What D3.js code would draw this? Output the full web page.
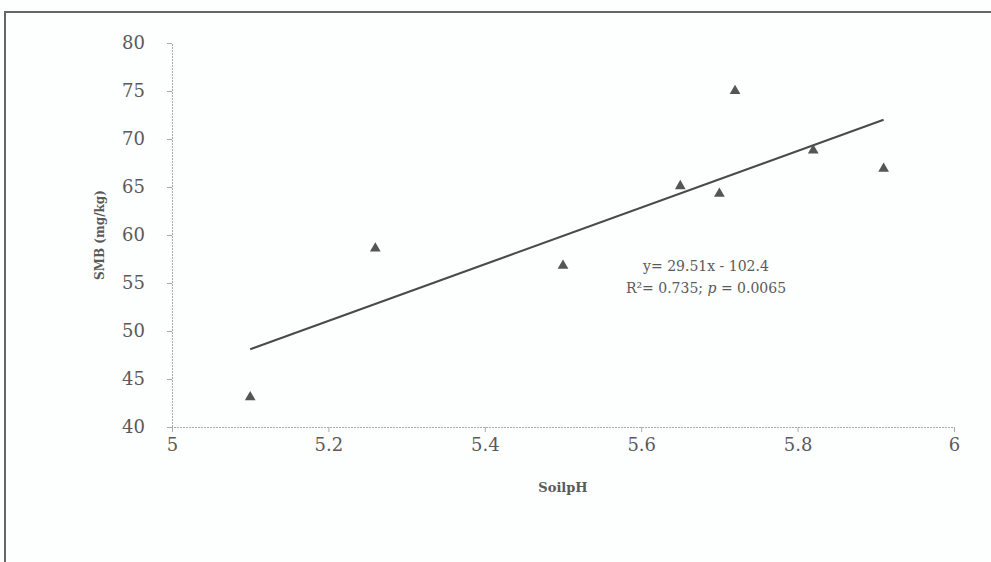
<!DOCTYPE html>
<html>
<head>
<meta charset="utf-8">
<script src="https://cdn.jsdelivr.net/npm/d3@7"></script>
<style>
  html, body { margin: 0; padding: 0; background: #fdfefe; }
  svg { display: block; }
</style>
</head>
<body>
<svg class="chart"></svg>
<script>
// data
const soilPH = [5.1, 5.26, 5.5, 5.65, 5.7, 5.72, 5.82, 5.91];
const smb = [43.1, 58.6, 56.8, 65.1, 64.3, 75.0, 68.8, 66.9];
const xTicks = [5, 5.2, 5.4, 5.6, 5.8, 6];
const yTicks = [40, 45, 50, 55, 60, 65, 70, 75, 80];
const slope = 29.51;
const intercept = -102.4;
const eqLines = ["y= 29.51x - 102.4", "R²= 0.735; ", "p", " = 0.0065"];

const width = 991, height = 562;
const margin = { top: 43, right: 37, bottom: 135, left: 172 };
const serif = `"DejaVu Serif", serif`;

const svg = d3.select(".chart")
  .attr("width", width)
  .attr("height", height);

// scanned frame
svg.append("path")
  .attr("d", `M5,${height} L5,12 L${width},12`)
  .attr("fill", "none")
  .attr("stroke", "#666")
  .attr("stroke-width", 2);

//make scales
const xScale = d3.scaleLinear()
  .domain([5, 6])
  .range([margin.left, width - margin.right]);
const yScale = d3.scaleLinear()
  .domain([40, 80])
  .range([height - margin.bottom, margin.top]);

const textColor = "#5a5a5a";
const axisColor = "#aaa";

//make axis
const xAxis = g => {
  g.attr("transform", `translate(0, ${yScale(40)})`)
    .call(d3.axisBottom(xScale).tickValues(xTicks).tickFormat(d3.format("")).tickSize(5).tickPadding(6));
  g.attr("class", "xaxis");
  return g;
};
const yAxis = g => {
  g.attr("transform", `translate(${xScale(5)}, 0)`)
    .call(d3.axisLeft(yScale).tickValues(yTicks).tickSize(5).tickPadding(22));
  g.attr("class", "yaxis");
  return g;
};

svg.append("g").call(yAxis);
svg.append("g").call(xAxis);

svg.selectAll(".xaxis path, .yaxis path")
  .attr("stroke", axisColor)
  .attr("stroke-dasharray", "2,1");
svg.selectAll(".tick line").attr("stroke", axisColor);
svg.selectAll(".tick text")
  .style("font-family", serif)
  .style("font-size", "18px")
  .attr("fill", textColor);

// trend line from the fitted equation
const xExt = d3.extent(soilPH);
svg.append("line")
  .attr("x1", xScale(xExt[0]))
  .attr("y1", yScale(slope * xExt[0] + intercept))
  .attr("x2", xScale(xExt[1]))
  .attr("y2", yScale(slope * xExt[1] + intercept))
  .attr("stroke", "#4a4a4a")
  .attr("stroke-width", 2);

// triangle markers
svg.append("g")
  .selectAll("path")
  .data(soilPH)
  .join("path")
  .attr("d", d3.symbol().type(d3.symbolTriangle).size(50))
  .attr("transform", (d, i) => `translate(${xScale(d)}, ${yScale(smb[i])})`)
  .attr("fill", "#555");

// equation
const eq = svg.append("g")
  .style("font-family", serif)
  .style("font-size", "14px")
  .attr("fill", textColor)
  .attr("text-anchor", "middle");
eq.append("text")
  .attr("x", 706)
  .attr("y", 271)
  .text(eqLines[0]);
const r2 = eq.append("text")
  .attr("x", 706)
  .attr("y", 293);
r2.append("tspan").text(eqLines[1]);
r2.append("tspan").style("font-style", "italic").text(eqLines[2]);
r2.append("tspan").text(eqLines[3]);

// axis titles
svg.append("text")
  .attr("transform", `translate(104, ${yScale(60)}) rotate(-90)`)
  .attr("text-anchor", "middle")
  .style("font-family", serif)
  .style("font-size", "12px")
  .style("font-weight", "bold")
  .attr("fill", textColor)
  .text("SMB (mg/kg)");

svg.append("text")
  .attr("x", (xScale(5) + xScale(6)) / 2)
  .attr("y", 492)
  .attr("text-anchor", "middle")
  .style("font-family", serif)
  .style("font-size", "13px")
  .style("font-weight", "bold")
  .attr("fill", textColor)
  .text("SoilpH");
</script>
</body>
</html>
